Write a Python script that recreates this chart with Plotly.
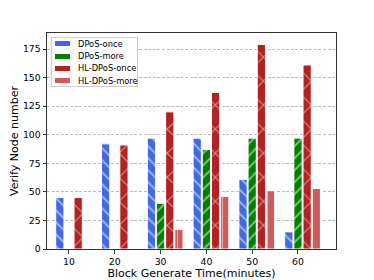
import plotly.graph_objects as go

categories = [10, 20, 30, 40, 50, 60]
tick_labels = ["10", "20", "30", "40", "50", "60"]
y_ticks = [0, 25, 50, 75, 100, 125, 150, 175]
dpos_once = [45, 92, 97, 97, 61, 15]
dpos_more = [0, 0, 40, 87, 97, 97]
hl_once = [45, 91, 120, 137, 179, 161]
hl_more = [0, 0, 17, 46, 51, 53]

series = [
    ("DPoS-once", dpos_once, "#4169E1", "\\", 8.5, 0.22, -2.0),
    ("DPoS-more", dpos_more, "#008000", "/", 8.5, 0.22, 0.0),
    ("HL-DPoS-once", hl_once, "#B22222", "x", 17, 0.12, 2.0),
    ("HL-DPoS-more", hl_more, "#CD5C5C", "|", 9, 0.12, 4.0),
]

# page body has an 8px margin, so the figure is drawn 8px in from the window corner
OFF = 8
W, H = 374 - OFF, 280 - OFF
L, R, T, B = 47 - OFF, 38, 33 - OFF, 31
pw, ph = W - L - R, H - T - B


def px_x(px):
    return (px - OFF - L) / pw


def px_y(py):
    return (H - B - (py - OFF)) / ph


fig = go.Figure()
for name, vals, color, shape, psize, sol, off in series:
    fig.add_trace(go.Bar(
        name=name, x=categories, y=vals, width=1.8, offset=off - 0.9,
        showlegend=False,
        marker=dict(color=color, line=dict(color="white", width=1),
                    pattern=dict(shape=shape, fgcolor="white", size=psize,
                                 solidity=sol, fillmode="overlay")),
    ))

# ---- compact legend (matplotlib style) built from annotations ----
box_x0, box_y0, box_w, box_h = 51, 37, 87, 50
fig.add_annotation(
    x=px_x(box_x0), y=px_y(box_y0), xref="paper", yref="paper",
    xanchor="left", yanchor="top", text=" ", showarrow=False,
    width=box_w - 2, height=box_h - 2, borderpad=0, borderwidth=1,
    bordercolor="#cccccc", bgcolor="rgba(255,255,255,0.92)",
)
row_py = [43.5, 56, 68.2, 80.5]
for (name, vals, color, shape, psize, sol, off), py in zip(series, row_py):
    fig.add_annotation(
        x=px_x(55), y=px_y(py), xref="paper", yref="paper",
        xanchor="left", yanchor="middle", text=" ", showarrow=False,
        width=15, height=4.5, borderpad=0, borderwidth=0, bgcolor=color,
        font=dict(size=4),
    )
    fig.add_annotation(
        x=px_x(76), y=px_y(py), xref="paper", yref="paper",
        xanchor="left", yanchor="middle", text=name, showarrow=False,
        font=dict(size=8.3, color="black"),
    )

fig.update_layout(
    width=W, height=H,
    margin=dict(l=L, r=R, t=T, b=B, autoexpand=False),
    paper_bgcolor="white", plot_bgcolor="white",
    barmode="overlay",
    font=dict(family="DejaVu Sans", color="black", size=9.3),
    showlegend=False,
    xaxis=dict(
        range=[5.2, 68.3], tickmode="array", tickvals=categories, ticktext=tick_labels,
        showline=True, linecolor="#333333", linewidth=1, mirror=True,
        ticks="outside", ticklen=3.5, tickcolor="#333333", showgrid=False, zeroline=False,
        title=dict(text="Block Generate Time(minutes)", font=dict(size=11), standoff=0),
        tickfont=dict(size=9.3), automargin=False,
    ),
    yaxis=dict(
        range=[0, 189], tickmode="array", tickvals=y_ticks,
        showline=True, linecolor="#333333", linewidth=1, mirror=True,
        ticks="outside", ticklen=3.5, tickcolor="#333333",
        showgrid=True, gridcolor="#bdbdbd", griddash="3px,1.6px", gridwidth=0.8,
        zeroline=False, layer="above traces",
        title=dict(text="Verify Node number", font=dict(size=11), standoff=6),
        tickfont=dict(size=9.3), automargin=False,
    ),
)

fig.write_html("out.html")
